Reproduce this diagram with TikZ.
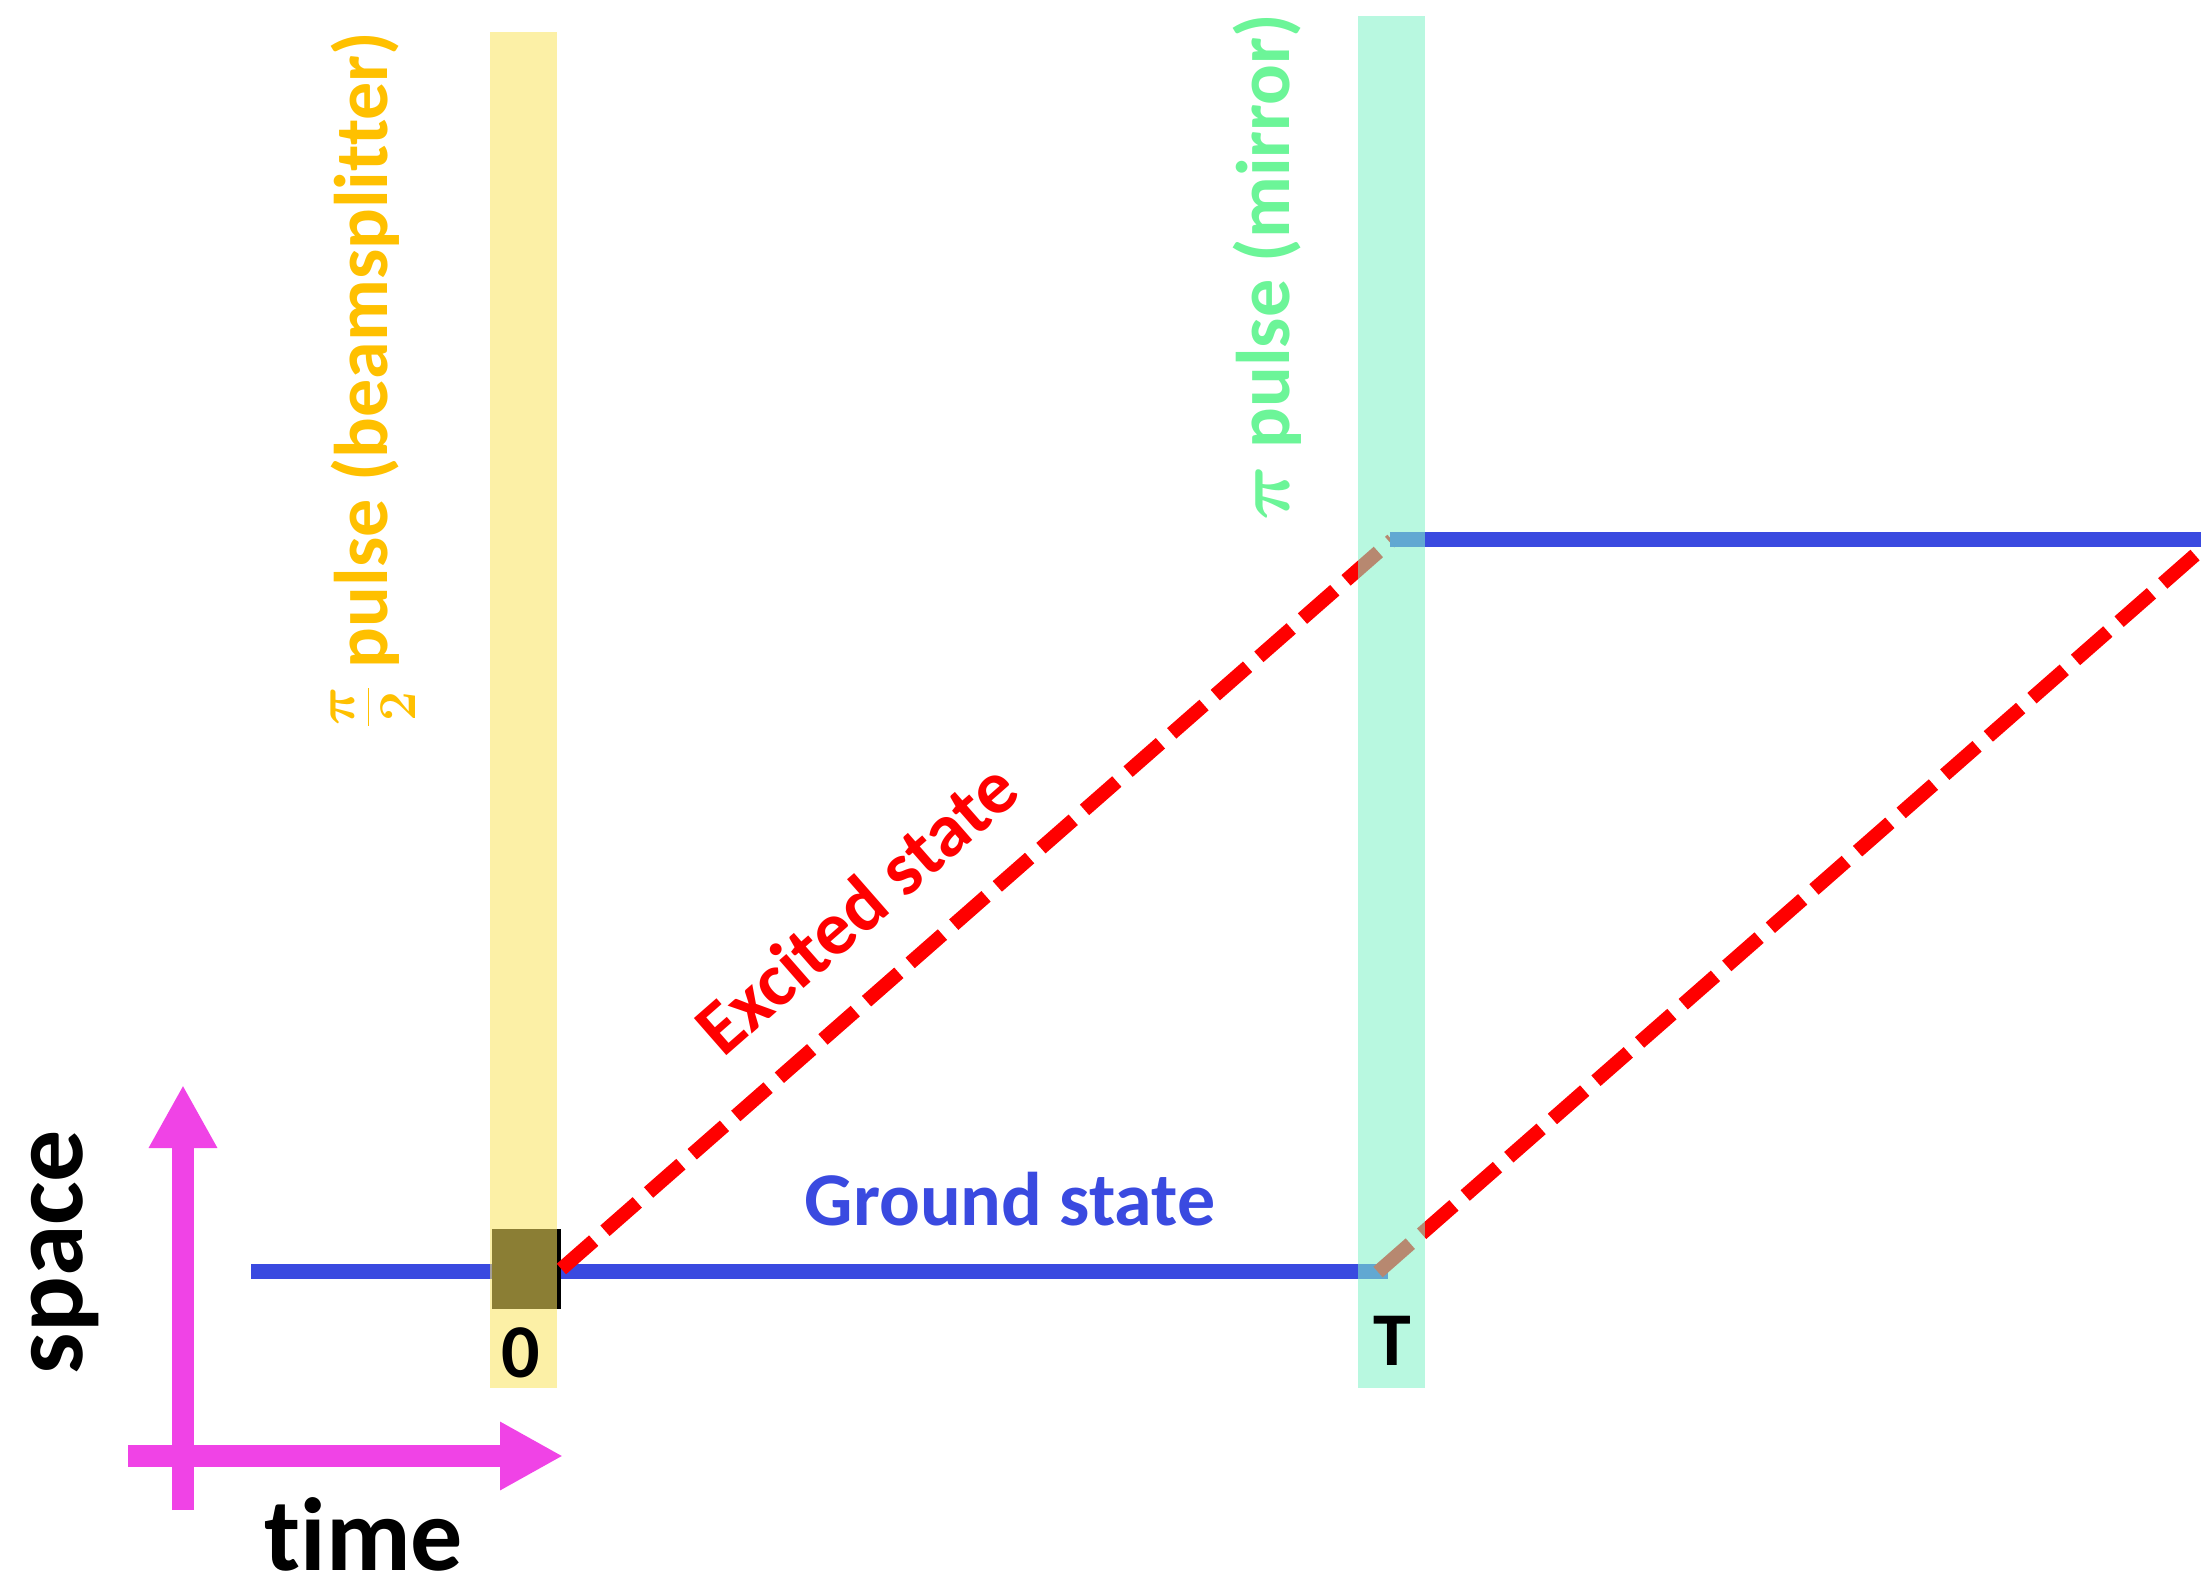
\RequirePackage{fix-cm}
\documentclass[tikz,border=0pt]{standalone}
\usepackage{fontspec}
\setmainfont{Carlito}[Ligatures=NoCommon]
\usetikzlibrary{arrows.meta}
\definecolor{bandY}{RGB}{250,228,95}
\definecolor{bandG}{RGB}{128,243,200}
\definecolor{txtY}{RGB}{255,192,0}
\definecolor{txtG}{RGB}{108,245,152}
\definecolor{gblue}{RGB}{58,74,224}
\definecolor{axmag}{RGB}{240,67,230}
\begin{document}
\begin{tikzpicture}[x=0.5pt,y=-0.5pt,
  groundline/.style={draw=gblue, line width=7.5pt},
  excited/.style={draw=red, line width=7pt, dash pattern=on 21.5pt off 7.5pt},
  axisarrow/.style={draw=axmag, line width=11pt, -{Triangle[length=31.5pt,width=32pt]}},
  sqbox/.style={fill=black, draw=none, minimum width=34.5pt, minimum height=40pt, inner sep=0},
  lbl/.style={font=\bfseries\boldmath\fontsize{38}{44}\selectfont, inner sep=0},
  biglbl/.style={font=\bfseries\fontsize{52}{60}\selectfont, inner sep=0}]
\useasboundingbox (0,0) rectangle (2201,1578);
\clip (0,0) rectangle (2201,1578);
% coordinates
\coordinate (g0) at (251,1271);
\coordinate (gT) at (1388,1271);
\coordinate (eT) at (1392,540);
\coordinate (uT) at (1390,539);
\coordinate (uE) at (2210,539);
\coordinate (lT) at (1378,1272);
\coordinate (lE) at (2215,537.5);
% lower ground line
\draw[groundline] (g0) -- (gT);
% beamsplitter square
\node[sqbox] (bs) at (526.5,1269) {};
% yellow band
\fill[bandY, opacity=0.557] (490,32) rectangle (557,1388);
% excited paths
\draw[excited] (bs.east) -- (eT);
\draw[excited] (lT) -- (lE);
% upper ground line
\draw[groundline] (uT) -- (uE);
% green band
\fill[bandG, opacity=0.56] (1358,16) rectangle (1425,1388);
% labels
\node[lbl, text=txtY, rotate=90, anchor=base] (bsl) at (387,380) {\(\frac{\pi}{2}\) pulse (beamsplitter)};
\node[lbl, text=txtG, rotate=90, anchor=base] (mil) at (1289,267) {\(\pi\) pulse (mirror)};
\node[lbl, text=gblue, anchor=base] (gsl) at (1010,1225) {Ground state};
\node[lbl, text=red, rotate=41.2, anchor=center] (esl) at (856,908) {Excited state};
\node[lbl, anchor=base] (t0) at (521,1377) {0};
\node[lbl, anchor=base] (tT) at (1392,1365) {T};
% axes
\coordinate (ax0) at (128,1456);
\coordinate (ax1) at (563,1456);
\coordinate (ay0) at (183,1510);
\coordinate (ay1) at (183,1085);
\draw[axisarrow] (ax0) -- (ax1);
\draw[axisarrow] (ay0) -- (ay1);
\node[biglbl, anchor=base] (timel) at (364,1570) {time};
\node[biglbl, rotate=90, anchor=base] (spacel) at (82,1252) {space};
\end{tikzpicture}
\end{document}
